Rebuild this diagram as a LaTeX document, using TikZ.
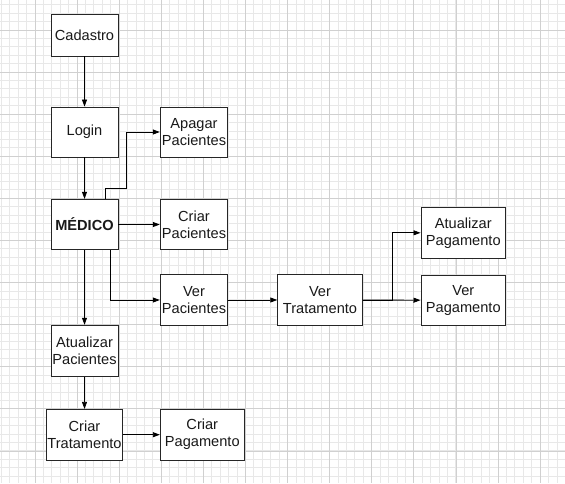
\documentclass[tikz,border=0pt]{standalone}
\usepackage{fontspec}
\setmainfont{Liberation Sans}
\usetikzlibrary{arrows.meta,calc}
\definecolor{minorgrid}{HTML}{E8E8E8}
\definecolor{majorgrid}{HTML}{D0D0D0}
\tikzset{
  box/.style={draw=black!85, line width=0.9pt, fill=white, rectangle, inner sep=0pt, align=center,
    font=\fontsize{14.6}{17}\selectfont, text=black!90},
  arr/.style={draw=black, line width=0.8pt, -{Triangle[length=7pt,width=5pt]}},
  minorl/.style={draw=minorgrid, line width=1pt},
  majorl/.style={draw=majorgrid, line width=1pt}
}
\begin{document}
\begin{tikzpicture}[x=1pt,y=-1pt]
\useasboundingbox (0,0) rectangle (565,483);
\fill[white] (0,0) rectangle (565,483);
\foreach \i in {0,...,67} {\pgfmathsetmacro{\gx}{floor(1.32+8.42*\i)+0.5}
  \draw[minorl] (\gx,0) -- (\gx,483);}
\foreach \i in {0,...,57} {\pgfmathsetmacro{\gy}{floor(4.74+8.42*\i)+0.5}
  \draw[minorl] (0,\gy) -- (565,\gy);}
\foreach \i in {0,...,12} {\pgfmathsetmacro{\gx}{floor(35.0+42.1*\i)+0.5}
  \draw[majorl] (\gx,0) -- (\gx,483);}
\foreach \i in {0,...,10} {\pgfmathsetmacro{\gy}{floor(30+42.1*\i)+0.5}
  \draw[majorl] (0,\gy) -- (565,\gy);}

\node[box, minimum width=67pt, minimum height=42pt] (cad) at (84.5,35) {Cadastro};
\node[box, minimum width=67pt, minimum height=50pt] (login) at (84.5,132) {Login};
\node[box, minimum width=67.5pt, minimum height=50pt] (apagar) at (194,132) {Apagar\\Pacientes};
\node[box, minimum width=67pt, minimum height=50.5pt, font=\fontsize{14.6}{17}\selectfont\bfseries] (medico) at (84.5,224.5) {MÉDICO};
\node[box, minimum width=67.5pt, minimum height=50.5pt] (criarpac) at (194,224.5) {Criar\\Pacientes};
\node[box, minimum width=67.5pt, minimum height=50.5pt] (verpac) at (194,300) {Ver\\Pacientes};
\node[box, minimum width=67pt, minimum height=51pt] (atpac) at (84.5,350.7) {Atualizar\\Pacientes};
\node[box, minimum width=76.4pt, minimum height=50.7pt] (criartrat) at (84.5,434.7) {Criar\\Tratamento};
\node[box, minimum width=84pt, minimum height=50.7pt] (criarpag) at (202.3,434.7) {Criar\\Pagamento};
\node[box, minimum width=84.6pt, minimum height=50.3pt] (vertrat) at (320,300) {Ver\\Tratamento};
\node[box, minimum width=84.7pt, minimum height=51pt] (atpag) at (463.3,232.8) {Atualizar\\Pagamento};
\node[box, minimum width=84.7pt, minimum height=50.3pt] (verpag) at (463.3,300.2) {Ver\\Pagamento};

\draw[arr] (cad) -- (login);
\draw[arr] (login) -- (medico);
\draw[arr] ($(medico.north)+(20.8,0)$) -- ++(0,-10) -| ($(apagar.west)+(-33.3,0)$) -- (apagar.west);
\draw[arr] (medico) -- (criarpac);
\draw[arr] ($(medico.south)+(26.2,0)$) |- (verpac.west);
\draw[arr] (medico) -- (atpac);
\draw[arr] (verpac) -- (vertrat);
\draw[arr] (vertrat.east) -- (verpag.west);
\draw[arr] (vertrat.east) -- ++(29.4,0) |- (atpag.west);
\draw[arr] (atpac) -- (criartrat);
\draw[arr] (criartrat) -- (criarpag);
\end{tikzpicture}
\end{document}
